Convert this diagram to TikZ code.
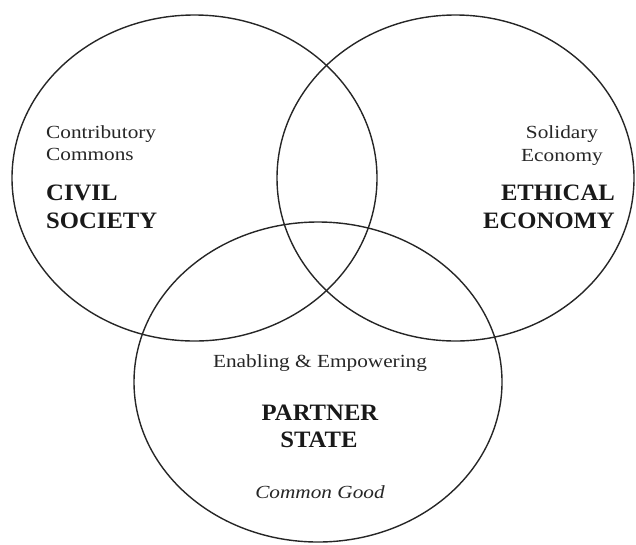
\documentclass[tikz,border=0pt]{standalone}
\usepackage{fontspec}
\setmainfont{Liberation Serif}
\newfontfamily\smallfam[FakeStretch=1.15]{Liberation Serif}
\newfontfamily\bigfam[FakeStretch=1.05]{Liberation Serif}
\begin{document}
\begin{tikzpicture}[x=1pt,y=-1pt,
  ring/.style={draw=black!85,line width=1.4pt},
  small/.style={font=\smallfam\fontsize{18.5}{22}\selectfont,text=black!85,inner sep=0pt,anchor=base},
  big/.style={font=\bigfam\fontsize{23.5}{28}\selectfont\bfseries,text=black!90,inner sep=0pt,anchor=base}]
\useasboundingbox (0,0) rectangle (636,544);
\draw[ring] (194.5,178) ellipse [x radius=182.5,y radius=163];
\draw[ring] (455.5,178) ellipse [x radius=178.5,y radius=163];
\draw[ring] (318,382) ellipse [x radius=184,y radius=160];
% left
\node[small,anchor=base west] (c1) at (46,138) {Contributory};
\node[small,anchor=base west] (c2) at (46,160) {Commons};
\node[big,anchor=base west] (cs1) at (46,200) {CIVIL};
\node[big,anchor=base west] (cs2) at (46,228) {SOCIETY};
% right
\node[small] (s1) at (562,138) {Solidary};
\node[small] (s2) at (562,161) {Economy};
\node[big,anchor=base east] (e1) at (615,200) {ETHICAL};
\node[big,anchor=base east] (e2) at (615,228) {ECONOMY};
% bottom
\node[small] (p0) at (320,367) {Enabling \& Empowering};
\node[big] (p1) at (320,420) {PARTNER};
\node[big] (p2) at (319,447) {STATE};
\node[small,font=\smallfam\fontsize{18.5}{22}\selectfont\itshape] (p3) at (320,498) {Common Good};
\end{tikzpicture}
\end{document}
